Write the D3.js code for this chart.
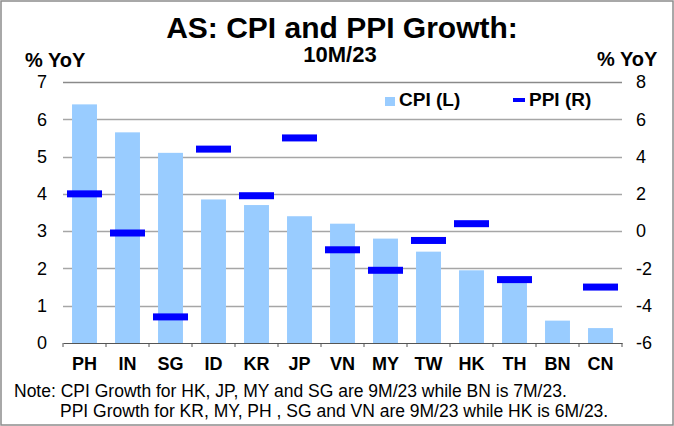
<!DOCTYPE html>
<html>
<head>
<meta charset="utf-8">
<script src="https://cdn.jsdelivr.net/npm/d3@7"></script>
<style>
  body { margin: 0; background: #fff; }
  svg { display: block; font-family: "Liberation Sans", Arial, sans-serif; }
</style>
</head>
<body>
<svg id="chart" width="674" height="426"></svg>
<script>
// data
const countries = ["PH", "IN", "SG", "ID", "KR", "JP", "VN", "MY", "TW", "HK", "TH", "BN", "CN"];
const cpiValues = [6.4, 5.65, 5.1, 3.85, 3.7, 3.4, 3.2, 2.8, 2.45, 1.95, 1.7, 0.6, 0.4];
const ppiValues = [2.0, -0.1, -4.6, 4.4, 1.9, 5.0, -1.0, -2.1, -0.5, 0.4, -2.6, null, -3.0];
const leftTicks = [0, 1, 2, 3, 4, 5, 6, 7];
const rightTicks = [-6, -4, -2, 0, 2, 4, 6, 8];
const noteLines = [
    "Note: CPI Growth for HK, JP, MY and SG are 9M/23 while BN is 7M/23.",
    "PPI Growth for KR, MY, PH , SG and VN are 9M/23 while HK is 6M/23."
];

const svg = d3.select("#chart");
const W = 674, H = 426;
const plot = {left: 63, right: 622, top: 82, bottom: 343};
const FONT = "Liberation Sans, Arial, sans-serif";

// frame
svg.append("rect")
    .attr("x", 1).attr("y", 1)
    .attr("width", W - 2).attr("height", H - 2)
    .attr("fill", "none").attr("stroke", "#8c8c8c").attr("stroke-width", 1.5);

//scales
const x = d3.scaleBand()
    .domain(countries)
    .range([plot.left, plot.right])
    .paddingInner(0).paddingOuter(0);
const yL = d3.scaleLinear().domain([0, 7]).range([plot.bottom, plot.top]);
const yR = d3.scaleLinear().domain([-6, 8]).range([plot.bottom, plot.top]);

// gridlines
svg.append("g").selectAll("line")
    .data(leftTicks.filter(d => d > 0))
    .join("line")
    .attr("x1", plot.left).attr("x2", plot.right)
    .attr("y1", d => Math.round(yL(d)) + 0.5).attr("y2", d => Math.round(yL(d)) + 0.5)
    .attr("stroke", d => d === 7 ? "#8a8a8a" : "#a6a6a6").attr("stroke-width", 1.3);

// bars
const barW = x.bandwidth() * 0.58;
svg.append("g").selectAll("rect")
    .data(countries.map((c, i) => ({c, v: cpiValues[i]})))
    .join("rect")
    .attr("x", d => x(d.c) + (x.bandwidth() - barW) / 2)
    .attr("y", d => yL(d.v))
    .attr("width", barW)
    .attr("height", d => yL(0) - yL(d.v))
    .attr("fill", "#99ccff");

// ppi markers
const markW = 35, markH = 7;
svg.append("g").selectAll("rect")
    .data(countries.map((c, i) => ({c, v: ppiValues[i]})).filter(d => d.v !== null))
    .join("rect")
    .attr("x", d => x(d.c) + x.bandwidth() / 2 - markW / 2)
    .attr("y", d => yR(d.v) - markH / 2)
    .attr("width", markW)
    .attr("height", markH)
    .attr("fill", "#0000ff");

// x axis
const gx = svg.append("g")
    .attr("transform", `translate(0,${plot.bottom})`)
    .call(d3.axisBottom(x).tickSize(0).tickPadding(14));
gx.select(".domain").attr("stroke", "#555").attr("stroke-width", 1.2);
gx.selectAll("text")
    .attr("font-family", FONT)
    .attr("font-size", 18).attr("font-weight", "bold").attr("fill", "#000");
gx.selectAll(".sep")
    .data(d3.range(countries.length + 1))
    .join("line")
    .attr("class", "sep")
    .attr("x1", i => plot.left + i * x.step()).attr("x2", i => plot.left + i * x.step())
    .attr("y1", 0).attr("y2", 4)
    .attr("stroke", "#555");

// left axis
const gl = svg.append("g")
    .attr("transform", `translate(${plot.left},0)`)
    .call(d3.axisLeft(yL).tickValues(leftTicks).tickFormat(d3.format("d")).tickSize(0).tickPadding(16));
gl.select(".domain").remove();
gl.selectAll("text")
    .attr("font-family", FONT)
    .attr("font-size", 18).attr("fill", "#000");

// right axis
const gr = svg.append("g")
    .attr("transform", `translate(${plot.right},0)`)
    .call(d3.axisRight(yR).tickValues(rightTicks).tickFormat(d => String(d)).tickSize(0).tickPadding(14));
gr.select(".domain").remove();
gr.selectAll("text")
    .attr("font-family", FONT)
    .attr("font-size", 18).attr("fill", "#000");

// titles
svg.append("text")
    .attr("x", 342).attr("y", 38)
    .attr("text-anchor", "middle")
    .attr("font-size", 30).attr("font-weight", "bold")
    .text("AS: CPI and PPI Growth:");
svg.append("text")
    .attr("x", 340).attr("y", 62)
    .attr("text-anchor", "middle")
    .attr("font-size", 22).attr("font-weight", "bold")
    .text("10M/23");
svg.append("text")
    .attr("x", 25).attr("y", 67)
    .attr("font-size", 20).attr("font-weight", "bold")
    .text("% YoY");
svg.append("text")
    .attr("x", 597).attr("y", 66)
    .attr("font-size", 20).attr("font-weight", "bold")
    .text("% YoY");

// legend
const lg = svg.append("g");
lg.append("rect").attr("x", 385).attr("y", 97).attr("width", 10).attr("height", 9).attr("fill", "#99ccff");
lg.append("text").attr("x", 399).attr("y", 106)
    .attr("font-size", 19).attr("font-weight", "bold").text("CPI (L)");
lg.append("rect").attr("x", 513).attr("y", 98).attr("width", 12).attr("height", 4).attr("fill", "#0000ff");
lg.append("text").attr("x", 529).attr("y", 106)
    .attr("font-size", 19).attr("font-weight", "bold").text("PPI (R)");

// notes
svg.append("text").attr("x", 14).attr("y", 397)
    .attr("font-size", 17.5).text(noteLines[0]);
svg.append("text").attr("x", 60).attr("y", 417)
    .attr("font-size", 17.5).text(noteLines[1]);
</script>
</body>
</html>
